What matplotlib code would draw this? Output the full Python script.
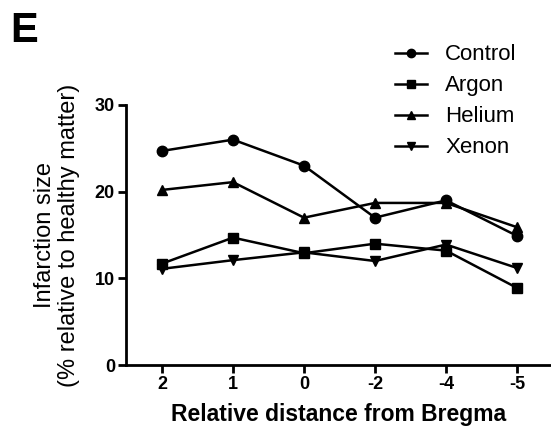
import matplotlib
matplotlib.use("Agg")
import matplotlib.pyplot as plt
import numpy as np

plt.rcParams['font.family'] = ['Liberation Sans', 'DejaVu Sans']

distances = ['2', '1', '0', '-2', '-4', '-5']
control = [24.7, 26.0, 23.0, 17.0, 19.0, 14.9]
argon = [11.7, 14.7, 12.9, 14.0, 13.2, 8.9]
helium = [20.2, 21.1, 17.0, 18.7, 18.7, 15.9]
xenon = [11.1, 12.1, 13.0, 12.0, 13.9, 11.2]

series = [
    ('Control', control, 'o'),
    ('Argon', argon, 's'),
    ('Helium', helium, '^'),
    ('Xenon', xenon, 'v'),
]


def _main():
    fig = plt.figure(figsize=(5.51, 4.32), dpi=100)
    ax = fig.add_axes([0.2287, 0.155, 0.7713, 0.602])

    x = np.arange(len(distances))
    for name, values, marker in series:
        ax.plot(x, values, color='black', lw=1.8, marker=marker,
                markersize=7.5, label=name, clip_on=False)

    ax.set_xlim(-0.507, 5.479)
    ax.set_ylim(0, 30)
    ax.set_yticks([0, 10, 20, 30])
    ax.set_xticks(x)
    ax.set_xticklabels(distances)

    for side in ['top', 'right']:
        ax.spines[side].set_visible(False)
    for side in ['left', 'bottom']:
        ax.spines[side].set_linewidth(2)
    ax.tick_params(direction='out', width=2, length=6, pad=2, labelsize=13)
    for lbl in ax.get_xticklabels() + ax.get_yticklabels():
        lbl.set_fontweight('bold')

    ax.set_xlabel('Relative distance from Bregma', fontsize=16.5,
                  fontweight='bold')
    ax.xaxis.set_label_coords(0.5, -0.146)
    ax.set_ylabel('Infarction size\n(% relative to healthy matter)',
                  fontsize=17, linespacing=1.15)
    ax.yaxis.set_label_coords(-0.108, 0.5)

    fig.legend(loc='upper left', bbox_to_anchor=(0.717, 0.897),
               frameon=False, fontsize=16, handlelength=1.45,
               labelspacing=0.45, handletextpad=0.8, borderpad=0,
               borderaxespad=0, markerscale=0.8)

    fig.text(0.018, 0.903, 'E', fontsize=30, fontweight='bold',
             va='baseline')

    fig.savefig('out.png', dpi=100)


if __name__ == '__main__':
    _main()
